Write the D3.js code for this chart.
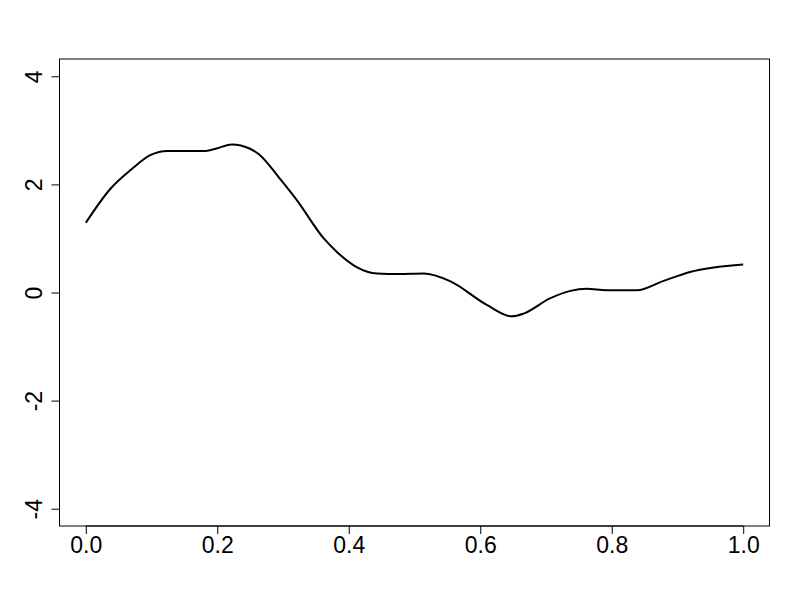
<!DOCTYPE html>
<html>
<head>
<meta charset="utf-8">
<script src="https://cdn.jsdelivr.net/npm/d3@7"></script>
<style>
	body { margin: 0; background: #fff; }
	text { font-family: "Liberation Sans", Arial, sans-serif; }
</style>
</head>
<body>
<div id="chart"></div>
<script>
// curve values
const xVals = [0, 0.0375, 0.0705, 0.098, 0.124, 0.182, 0.2, 0.222, 0.25, 0.265, 0.293, 0.321, 0.362, 0.382, 0.412, 0.443, 0.476, 0.514, 0.554, 0.61, 0.648, 0.666, 0.706, 0.737, 0.762, 0.792, 0.838, 0.878, 0.919, 1.0];
const yVals = [1.29, 1.92, 2.29, 2.54, 2.62, 2.62, 2.67, 2.74, 2.66, 2.54, 2.14, 1.71, 1.0, 0.75, 0.47, 0.35, 0.34, 0.35, 0.21, -0.23, -0.44, -0.39, -0.11, 0.03, 0.07, 0.04, 0.04, 0.21, 0.38, 0.52];
const xTicks = [0, 0.2, 0.4, 0.6, 0.8, 1.0];
const yTicks = [-4, -2, 0, 2, 4];

const size = { w: 800, h: 600 };
const plot = { l: 59.5, r: 769.5, t: 59, b: 526 };

const svg = d3
	.select("#chart")
	.append("svg")
	.attr("width", size.w)
	.attr("height", size.h);

// R style: data range padded by 4%
const x = d3.scaleLinear().domain([-0.04, 1.04]).range([plot.l, plot.r]);
const y = d3.scaleLinear().domain([-4.32, 4.32]).range([plot.b, plot.t]);

const data = xVals.map((d, i) => ({ x: d, y: yVals[i] }));

svg.append("path")
	.datum(data)
	.attr("fill", "none")
	.attr("stroke", "#000")
	.attr("stroke-width", 2)
	.attr("stroke-linejoin", "round")
	.attr("d", d3.line().x((d) => x(d.x)).y((d) => y(d.y)).curve(d3.curveMonotoneX));

// box
svg.append("rect")
	.attr("x", plot.l)
	.attr("y", plot.t)
	.attr("width", plot.r - plot.l)
	.attr("height", plot.b - plot.t)
	.attr("fill", "none")
	.attr("stroke", "#000")
	.attr("stroke-width", 1);

const xAxis = svg.append("g")
	.attr("transform", `translate(0, ${plot.b})`)
	.call(d3.axisBottom(x).tickValues(xTicks).tickFormat(d3.format(".1f")).tickSizeOuter(0).tickSize(8).tickPadding(3));
xAxis.select(".domain")
	.attr("d", `M${x(0)},0H${x(1)}`);
xAxis.selectAll("text").attr("font-size", 23).attr("font-family", "Liberation Sans, Arial, sans-serif").attr("fill", "#000");

const yAxis = svg.append("g")
	.attr("transform", `translate(${plot.l}, 0)`)
	.call(d3.axisLeft(y).tickValues(yTicks).tickFormat((d) => String(d)).tickSizeOuter(0).tickSize(8));
yAxis.select(".domain")
	.attr("d", `M0,${y(-4)}V${y(4)}`);
yAxis.selectAll("text")
	.attr("font-size", 23)
	.attr("font-family", "Liberation Sans, Arial, sans-serif")
	.attr("fill", "#000")
	.attr("text-anchor", "middle")
	.attr("dy", 0)
	.attr("x", 0)
	.attr("transform", (d) => `translate(-18, 0) rotate(-90)`);
</script>
</body>
</html>
